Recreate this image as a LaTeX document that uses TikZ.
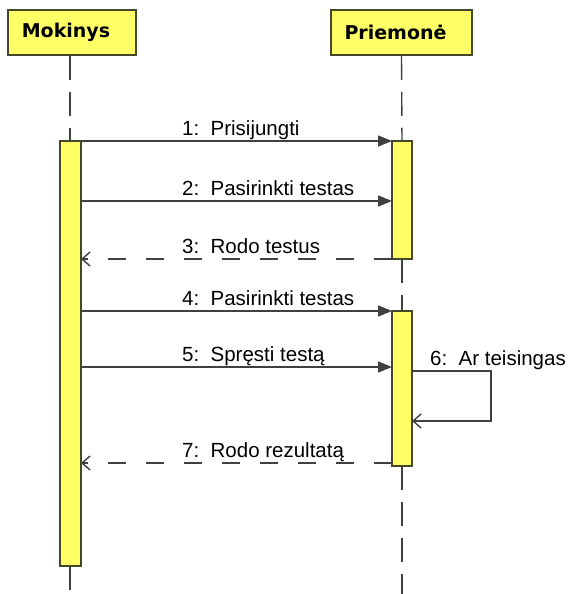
\documentclass[tikz,border=0pt]{standalone}
\usepackage{fontspec}
\setmainfont{Liberation Sans}
\newfontfamily\headfont{DejaVu Sans}
\usetikzlibrary{arrows.meta}
\definecolor{actfill}{RGB}{255,255,102}
\definecolor{actline}{RGB}{70,70,40}
\definecolor{msgline}{RGB}{64,64,64}
\begin{document}
\begin{tikzpicture}[x=1pt,y=-1pt,
  header/.style={draw=actline,fill=actfill,line width=1.5pt,minimum height=45pt,inner sep=0pt,font=\headfont\bfseries\fontsize{19}{22}\selectfont},
  actbox/.style={draw=actline,fill=actfill,line width=1.4pt},
  lifeline/.style={draw=msgline,line width=1.4pt,dash pattern=on 24pt off 12pt},
  callmsg/.style={draw=msgline,line width=1.4pt,-{Triangle[length=14pt,width=11pt]}},
  retmsg/.style={draw=msgline,line width=1.4pt,dash pattern=on 18pt off 20pt,-{Straight Barb[length=8pt,width=14pt]}},
  selfmsg/.style={draw=msgline,line width=1.4pt,-{Straight Barb[length=8pt,width=14pt]}},
  msglabel/.style={font=\fontsize{20.5}{24}\selectfont,inner sep=0pt,anchor=base west}
]
\useasboundingbox (0,0) rectangle (576,594);
\fill[white] (0,0) rectangle (576,594);

% participants
\node[header,minimum width=128pt] (mok) at (72,32.5) {\hspace*{-12pt}Mokinys};
\node[header,minimum width=141pt] (prm) at (401.5,32.5) {\hspace*{-12pt}Priemonė};

% lifelines
\coordinate (mokend) at (70,594);
\coordinate (prmend) at (402,594);
\draw[lifeline] (mok.south) ++(-2,0) -- (70,141);
\draw[lifeline] (70,566) -- (mokend);
\draw[lifeline] (prm.south) -- (402,141);
\draw[lifeline] (402,259) -- (402,311);
\draw[lifeline] (402,466) -- (prmend);

% activation bars
\draw[actbox] (60,141) rectangle (81,566);
\draw[actbox] (392,141) rectangle (412,259);
\draw[actbox] (392,311) rectangle (412,466);

% messages
\draw[callmsg] (81,141) -- (392,141);
\node[msglabel] (m1) at (182,135) {1:\ \ Prisijungti};
\draw[callmsg] (81,201) -- (392,201);
\node[msglabel] (m2) at (182,195) {2:\ \ Pasirinkti testas};
\draw[retmsg] (392,259) -- (81,259);
\node[msglabel] (m3) at (182,253) {3:\ \ Rodo testus};
\draw[callmsg] (81,311) -- (392,311);
\node[msglabel] (m4) at (182,305) {4:\ \ Pasirinkti testas};
\draw[callmsg] (81,367) -- (392,367);
\node[msglabel] (m5) at (182,361) {5:\ \ Spręsti testą};
\draw[selfmsg] (412,371) -- (491,371) -- (491,421) -- (412,421);
\node[msglabel] (m6) at (430,365) {6:\ \ Ar teisingas};
\draw[retmsg] (392,463) -- (81,463);
\node[msglabel] (m7) at (182,457) {7:\ \ Rodo rezultatą};
\end{tikzpicture}
\end{document}
